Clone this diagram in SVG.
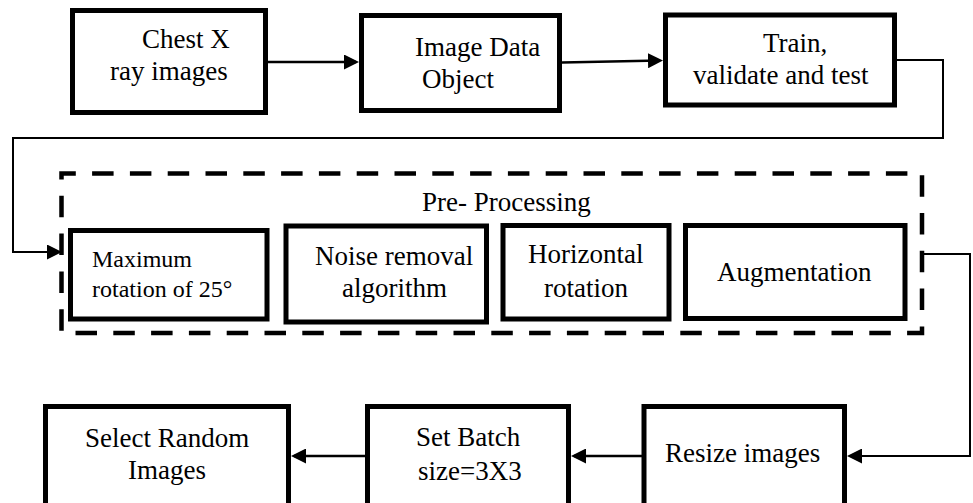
<svg xmlns="http://www.w3.org/2000/svg" width="973" height="503" viewBox="0 0 973 503">
<style>
.box{fill:#fff;stroke:#000;stroke-width:5}
.t{font-family:"Liberation Serif","Times New Roman",serif;font-size:27px;fill:#000}
.s{font-size:24px}
.ln{fill:none;stroke:#000;stroke-width:2.5}
.thin{fill:none;stroke:#000;stroke-width:2}
.dash{fill:none;stroke:#000;stroke-width:4.5;stroke-dasharray:21.5 16.3;stroke-dashoffset:7.2}
</style>
<defs>
<marker id="ah" viewBox="0 0 15 15" refX="12" refY="7.5" markerWidth="15" markerHeight="15" markerUnits="userSpaceOnUse" orient="auto">
<path d="M0,0 L15,7.5 L0,15 Z" fill="#000"/>
</marker>
</defs>
<rect width="973" height="503" fill="#fff"/>
<g id="preprocessing">
<rect class="dash" x="61.5" y="173.5" width="860.5" height="159.5"/>
<text class="t" x="422" y="211">Pre- Processing</text>
</g>
<g id="connectors">
<path class="ln" d="M268,62 L356,62" marker-end="url(#ah)"/>
<path class="ln" d="M562,62.5 L660,60.5" marker-end="url(#ah)"/>
<path class="thin" d="M897,60 L943,60 L943,138 L13,138 L13,252 L59,252" marker-end="url(#ah)"/>
<path class="thin" d="M923,254 L970,254 L970,456 L850,456" marker-end="url(#ah)"/>
<path class="ln" d="M642,456 L574,456" marker-end="url(#ah)"/>
<path class="ln" d="M365,456 L294,456" marker-end="url(#ah)"/>
</g>
<g id="chest">
<rect class="box" x="72.5" y="10.5" width="193" height="102"/>
<text class="t" x="142" y="48">Chest X</text>
<text class="t" x="110" y="80">ray images</text>
</g>
<g id="imagedata">
<rect class="box" x="361.5" y="15.5" width="198" height="95"/>
<text class="t" x="415" y="56">Image Data</text>
<text class="t" x="422" y="88">Object</text>
</g>
<g id="train">
<rect class="box" x="665.5" y="15" width="229" height="90"/>
<text class="t" x="763" y="52">Train,</text>
<text class="t" x="693" y="84">validate and test</text>
</g>
<g id="maxrot">
<rect class="box" x="70.5" y="230.5" width="196.5" height="88.5"/>
<text class="t s" x="92" y="267">Maximum</text>
<text class="t s" x="92" y="297">rotation of 25°</text>
</g>
<g id="noise">
<rect class="box" x="286" y="226" width="200.5" height="96"/>
<text class="t" x="315" y="265">Noise removal</text>
<text class="t" x="342" y="297">algorithm</text>
</g>
<g id="horizontal">
<rect class="box" x="503" y="225.5" width="166" height="93.5"/>
<text class="t" x="528" y="263">Horizontal</text>
<text class="t" x="544" y="297">rotation</text>
</g>
<g id="augmentation">
<rect class="box" x="685.5" y="225.5" width="219.5" height="93"/>
<text class="t" x="717" y="281">Augmentation</text>
</g>
<g id="select">
<rect class="box" x="45.5" y="406.5" width="243" height="110"/>
<text class="t" x="85" y="447">Select Random</text>
<text class="t" x="128" y="479">Images</text>
</g>
<g id="batch">
<rect class="box" x="367.5" y="406.5" width="201" height="110"/>
<text class="t" x="416" y="446">Set Batch</text>
<text class="t" x="418" y="480">size=3X3</text>
</g>
<g id="resize">
<rect class="box" x="644" y="406.5" width="200.5" height="110"/>
<text class="t" x="665" y="462">Resize images</text>
</g>
</svg>
